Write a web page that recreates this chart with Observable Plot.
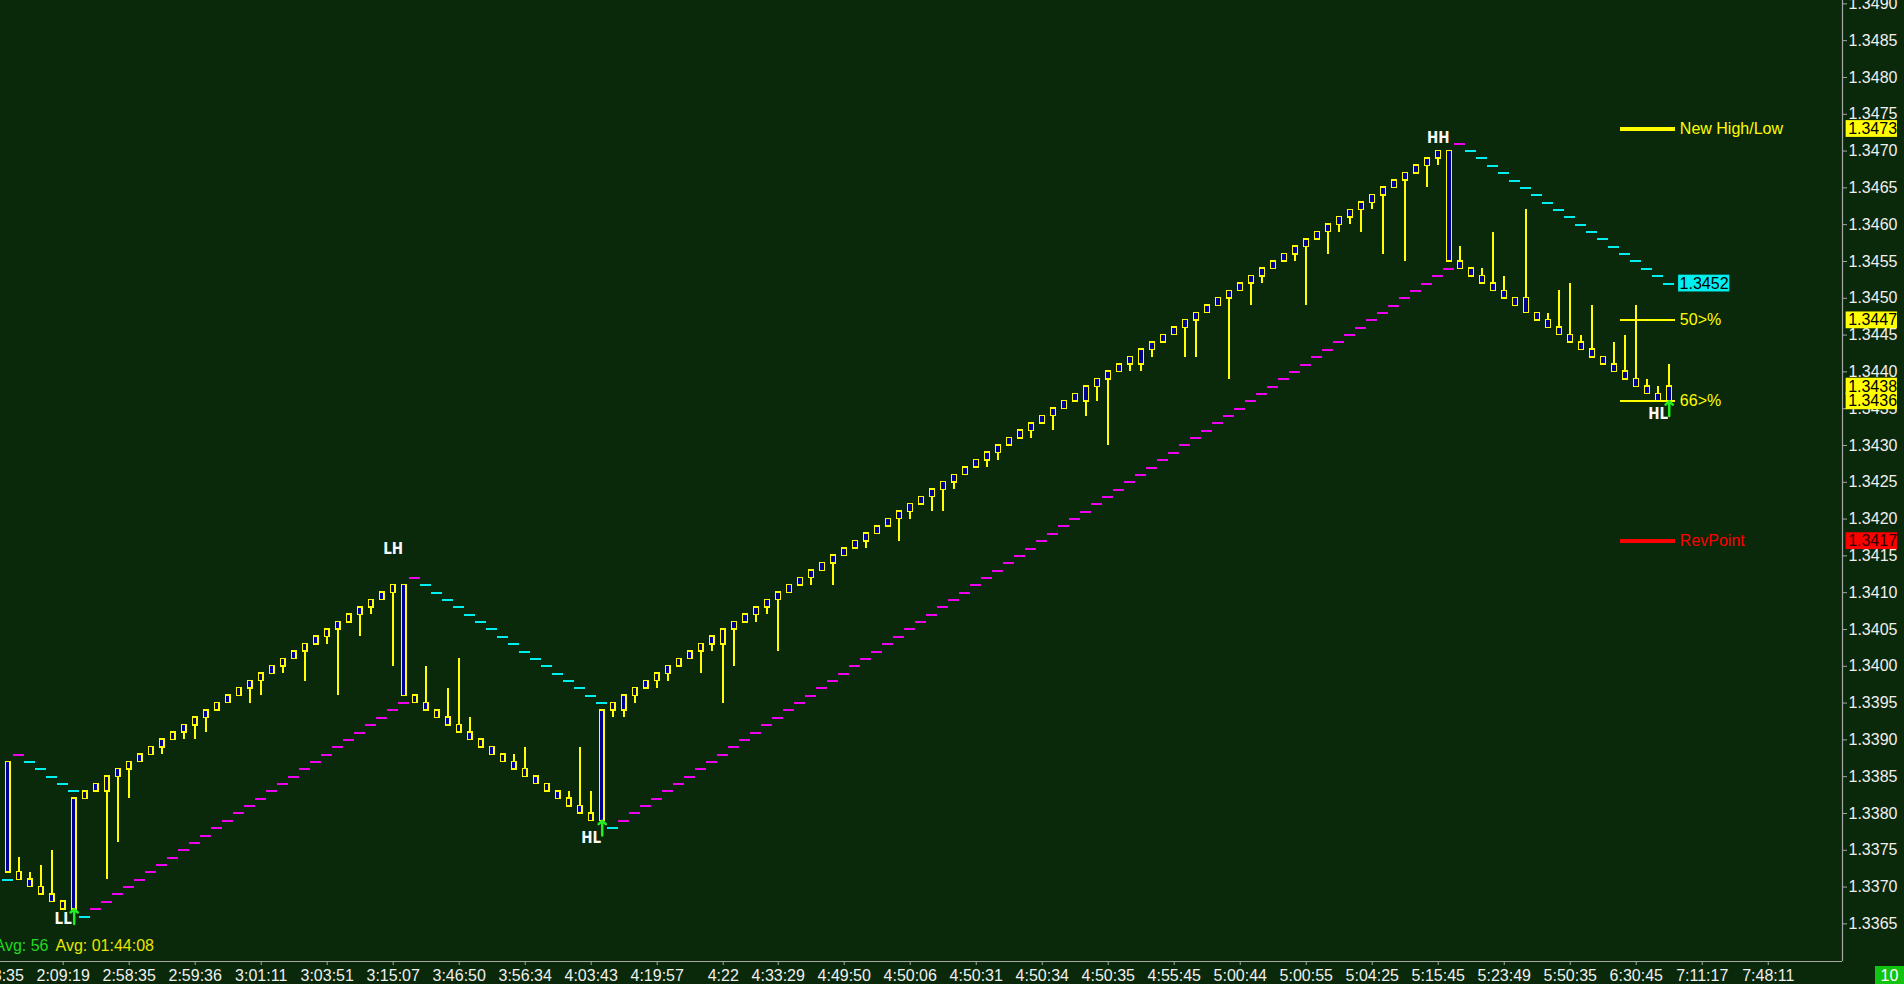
<!DOCTYPE html>
<html>
<head>
<meta charset="utf-8">
<script src="https://cdn.jsdelivr.net/npm/d3@7"></script>
<script src="https://cdn.jsdelivr.net/npm/@observablehq/plot@0.6"></script>
<style>
  html, body { margin: 0; padding: 0; background: #0a280a; overflow: hidden; }
  #wrap { position: relative; width: 1904px; height: 984px; }
  #wrap svg { display: block; }
  #count { position: absolute; left: 1875px; top: 966px; width: 29px; height: 18px;
    background: #12c412; color: #ffffff; font: 16px "Liberation Sans", Arial, sans-serif;
    line-height: 19px; text-align: center; }
</style>
</head>
<body>
<div id="wrap"></div>
<script>
// ---------------- DATA ----------------
const open = [
  1.3387,1.3372,1.3371,1.3370,1.3369,1.3368,1.3367,1.3382,1.3383,1.3383,
  1.3385,1.3386,1.3387,1.3388,1.3389,1.3390,1.3391,1.3392,1.3393,1.3394,
  1.3395,1.3396,1.3397,1.3398,1.3399,1.3400,1.3401,1.3402,1.3403,1.3404,
  1.3405,1.3406,1.3407,1.3408,1.3409,1.3410,1.3411,1.3396,1.3395,1.3394,
  1.3393,1.3392,1.3391,1.3390,1.3389,1.3388,1.3387,1.3386,1.3385,1.3384,
  1.3383,1.3382,1.3381,1.3380,1.3379,1.3394,1.3394,1.3396,1.3397,1.3398,
  1.3399,1.3400,1.3401,1.3402,1.3403,1.3403,1.3405,1.3406,1.3407,1.3408,
  1.3409,1.3410,1.3411,1.3412,1.3413,1.3414,1.3415,1.3416,1.3417,1.3418,
  1.3419,1.3420,1.3421,1.3422,1.3423,1.3424,1.3425,1.3426,1.3427,1.3428,
  1.3429,1.3430,1.3431,1.3432,1.3433,1.3434,1.3435,1.3436,1.3436,1.3438,
  1.3439,1.3440,1.3441,1.3441,1.3443,1.3444,1.3445,1.3446,1.3447,1.3448,
  1.3449,1.3450,1.3451,1.3452,1.3453,1.3454,1.3455,1.3456,1.3457,1.3458,
  1.3459,1.3460,1.3461,1.3462,1.3463,1.3464,1.3465,1.3466,1.3467,1.3468,
  1.3469,1.3470,1.3455,1.3454,1.3453,1.3452,1.3451,1.3450,1.3450,1.3448,
  1.3447,1.3446,1.3445,1.3444,1.3443,1.3442,1.3441,1.3440,1.3439,1.3438,
  1.3437,1.3436
];
const close = [
  1.3372,1.3371,1.3370,1.3369,1.3368,1.3367,1.3382,1.3383,1.3384,1.3385,
  1.3386,1.3387,1.3388,1.3389,1.3390,1.3391,1.3392,1.3393,1.3394,1.3395,
  1.3396,1.3397,1.3398,1.3399,1.3400,1.3401,1.3402,1.3403,1.3404,1.3405,
  1.3406,1.3407,1.3408,1.3409,1.3410,1.3411,1.3396,1.3395,1.3394,1.3393,
  1.3392,1.3391,1.3390,1.3389,1.3388,1.3387,1.3386,1.3385,1.3384,1.3383,
  1.3382,1.3381,1.3380,1.3379,1.3394,1.3395,1.3396,1.3397,1.3398,1.3399,
  1.3400,1.3401,1.3402,1.3403,1.3404,1.3405,1.3406,1.3407,1.3408,1.3409,
  1.3410,1.3411,1.3412,1.3413,1.3414,1.3415,1.3416,1.3417,1.3418,1.3419,
  1.3420,1.3421,1.3422,1.3423,1.3424,1.3425,1.3426,1.3427,1.3428,1.3429,
  1.3430,1.3431,1.3432,1.3433,1.3434,1.3435,1.3436,1.3437,1.3438,1.3439,
  1.3440,1.3441,1.3442,1.3443,1.3444,1.3445,1.3446,1.3447,1.3448,1.3449,
  1.3450,1.3451,1.3452,1.3453,1.3454,1.3455,1.3456,1.3457,1.3458,1.3459,
  1.3460,1.3461,1.3462,1.3463,1.3464,1.3465,1.3466,1.3467,1.3468,1.3469,
  1.3470,1.3455,1.3454,1.3453,1.3452,1.3451,1.3450,1.3449,1.3448,1.3447,
  1.3446,1.3445,1.3444,1.3443,1.3442,1.3441,1.3440,1.3439,1.3438,1.3437,
  1.3436,1.3438
];
const high = [
  1.3387,1.3374,1.3372,1.3373,1.3375,1.3368,1.3382,1.3383,1.3384,1.3385,
  1.3386,1.3387,1.3388,1.3389,1.3390,1.3391,1.3392,1.3393,1.3394,1.3395,
  1.3396,1.3397,1.3398,1.3399,1.3400,1.3401,1.3402,1.3403,1.3404,1.3405,
  1.3406,1.3407,1.3408,1.3409,1.3410,1.3411,1.3411,1.3396,1.3400,1.3394,
  1.3397,1.3401,1.3393,1.3390,1.3389,1.3388,1.3388,1.3389,1.3385,1.3384,
  1.3383,1.3383,1.3389,1.3383,1.3394,1.3395,1.3396,1.3397,1.3398,1.3399,
  1.3400,1.3401,1.3402,1.3403,1.3404,1.3405,1.3406,1.3407,1.3408,1.3409,
  1.3410,1.3411,1.3412,1.3413,1.3414,1.3415,1.3416,1.3417,1.3418,1.3419,
  1.3420,1.3421,1.3422,1.3423,1.3424,1.3425,1.3426,1.3427,1.3428,1.3429,
  1.3430,1.3431,1.3432,1.3433,1.3434,1.3435,1.3436,1.3437,1.3438,1.3439,
  1.3440,1.3441,1.3442,1.3443,1.3444,1.3445,1.3446,1.3447,1.3448,1.3449,
  1.3450,1.3451,1.3452,1.3453,1.3454,1.3455,1.3456,1.3457,1.3458,1.3459,
  1.3460,1.3461,1.3462,1.3463,1.3464,1.3465,1.3466,1.3467,1.3468,1.3469,
  1.3470,1.3470,1.3457,1.3454,1.3454,1.3459,1.3453,1.3450,1.3462,1.3448,
  1.3448,1.3451,1.3452,1.3445,1.3449,1.3442,1.3444,1.3445,1.3449,1.3439,
  1.3438,1.3441
];
const low = [
  1.3372,1.3371,1.3370,1.3369,1.3368,1.3367,1.3367,1.3382,1.3383,1.3371,
  1.3376,1.3382,1.3387,1.3388,1.3388,1.3390,1.3390,1.3390,1.3391,1.3394,
  1.3395,1.3396,1.3395,1.3396,1.3399,1.3399,1.3401,1.3398,1.3403,1.3403,
  1.3396,1.3406,1.3404,1.3407,1.3409,1.3400,1.3396,1.3395,1.3394,1.3393,
  1.3392,1.3391,1.3390,1.3389,1.3388,1.3387,1.3386,1.3385,1.3384,1.3383,
  1.3382,1.3381,1.3380,1.3379,1.3379,1.3393,1.3393,1.3395,1.3397,1.3397,
  1.3398,1.3400,1.3401,1.3399,1.3402,1.3395,1.3400,1.3406,1.3406,1.3407,
  1.3402,1.3410,1.3411,1.3411,1.3413,1.3411,1.3415,1.3416,1.3416,1.3418,
  1.3419,1.3417,1.3420,1.3422,1.3421,1.3421,1.3424,1.3426,1.3427,1.3427,
  1.3428,1.3430,1.3431,1.3431,1.3433,1.3432,1.3435,1.3436,1.3434,1.3436,
  1.3430,1.3440,1.3440,1.3440,1.3442,1.3444,1.3445,1.3442,1.3442,1.3448,
  1.3449,1.3439,1.3451,1.3449,1.3452,1.3454,1.3455,1.3455,1.3449,1.3458,
  1.3456,1.3459,1.3460,1.3459,1.3462,1.3456,1.3465,1.3455,1.3467,1.3465,
  1.3468,1.3455,1.3454,1.3453,1.3452,1.3451,1.3450,1.3449,1.3448,1.3447,
  1.3446,1.3445,1.3444,1.3443,1.3442,1.3441,1.3440,1.3439,1.3438,1.3437,
  1.3436,1.3436
];
// trailing stop level per bar, and its side: c = cyan (above), m = magenta (below)
const stopLevel = [
  1.3371,1.3388,1.3387,1.3386,1.3385,1.3384,1.3383,1.3366,1.3367,1.3368,
  1.3369,1.3370,1.3371,1.3372,1.3373,1.3374,1.3375,1.3376,1.3377,1.3378,
  1.3379,1.3380,1.3381,1.3382,1.3383,1.3384,1.3385,1.3386,1.3387,1.3388,
  1.3389,1.3390,1.3391,1.3392,1.3393,1.3394,1.3395,1.3412,1.3411,1.3410,
  1.3409,1.3408,1.3407,1.3406,1.3405,1.3404,1.3403,1.3402,1.3401,1.3400,
  1.3399,1.3398,1.3397,1.3396,1.3395,1.3378,1.3379,1.3380,1.3381,1.3382,
  1.3383,1.3384,1.3385,1.3386,1.3387,1.3388,1.3389,1.3390,1.3391,1.3392,
  1.3393,1.3394,1.3395,1.3396,1.3397,1.3398,1.3399,1.3400,1.3401,1.3402,
  1.3403,1.3404,1.3405,1.3406,1.3407,1.3408,1.3409,1.3410,1.3411,1.3412,
  1.3413,1.3414,1.3415,1.3416,1.3417,1.3418,1.3419,1.3420,1.3421,1.3422,
  1.3423,1.3424,1.3425,1.3426,1.3427,1.3428,1.3429,1.3430,1.3431,1.3432,
  1.3433,1.3434,1.3435,1.3436,1.3437,1.3438,1.3439,1.3440,1.3441,1.3442,
  1.3443,1.3444,1.3445,1.3446,1.3447,1.3448,1.3449,1.3450,1.3451,1.3452,
  1.3453,1.3454,1.3471,1.3470,1.3469,1.3468,1.3467,1.3466,1.3465,1.3464,
  1.3463,1.3462,1.3461,1.3460,1.3459,1.3458,1.3457,1.3456,1.3455,1.3454,
  1.3453,1.3452
];
const stopSide = [
  "cmccccccmm","mmmmmmmmmm","mmmmmmmmmm","mmmmmmmmcc","cccccccccc",
  "ccccccmmmm","mmmmmmmmmm","mmmmmmmmmm","mmmmmmmmmm","mmmmmmmmmm",
  "mmmmmmmmmm","mmmmmmmmmm","mmmmmmmmmm","mmmccccccc","cccccccccc","cc"
].join("");

// swing labels (bar index, text, price where the label sits)
const swingBar = [5, 35, 53, 130, 150];
const swingText = ["LL", "LH", "HL", "HH", "HL"];
const swingPrice = [1.33657, 1.34159, 1.33766, 1.34717, 1.34342];
// green reversal arrows (bar index)
const arrowBar = [6, 54, 151];

// level legend at the right
const levelPrice = [1.3473, 1.3447, 1.3436, 1.3417];
const levelText = ["New High/Low", "50>%", "66>%", "RevPoint"];
const levelColor = ["#ffff00", "#ffff00", "#ffff00", "#ff0000"];
const levelWidth = [4, 2, 2, 4];

// price tags on the axis
const tagPrice = [1.3473, 1.3447, 1.3438, 1.3436, 1.3417];
const tagColor = ["#ffff00", "#ffff00", "#ffff00", "#ffff00", "#ff0000"];
const stopTagPrice = 1.3452;

// axes
const xTickBars = [-1,5,11,17,23,29,35,41,47,53,59,65,70,76,82,88,94,100,106,112,118,124,130,136,142,148,154,160];
const xTickLabels = ["1:48:35","2:09:19","2:58:35","2:59:36","3:01:11","3:03:51","3:15:07","3:46:50","3:56:34","4:03:43",
  "4:19:57","4:22","4:33:29","4:49:50","4:50:06","4:50:31","4:50:34","4:50:35","4:55:45","5:00:44",
  "5:00:55","5:04:25","5:15:45","5:23:49","5:50:35","6:30:45","7:11:17","7:48:11"];
const yTicks = [1.3365,1.3370,1.3375,1.3380,1.3385,1.3390,1.3395,1.3400,1.3405,1.3410,1.3415,1.3420,1.3425,
  1.3430,1.3435,1.3440,1.3445,1.3450,1.3455,1.3460,1.3465,1.3470,1.3475,1.3480,1.3485,1.3490];

const footerCount = "Avg: 56";
const footerTime = "Avg: 01:44:08";

// ---------------- BUILD ----------------
const bars = open.map((o, i) => ({i, open: o, close: close[i], high: high[i], low: low[i]}));
const stops = stopLevel.map((v, i) => ({i, v, side: stopSide[i]}));
const swings = swingBar.map((b, k) => ({i: b, t: swingText[k], v: swingPrice[k]}));
const arrows = arrowBar.map(b => ({i: b, v: low[b]}));
const lastBar = bars.length - 1;

const W = 1904, H = 984;
const xDomain = [-0.7, 166.75];
const yDomain = [1.335989, 1.349046];
const plotH = 961;
const pxPerPrice = plotH / (yDomain[1] - yDomain[0]);
const tagHalf = 8.4 / pxPerPrice;

const YEL = "#ffff00", NAVY = "#000090", CYAN = "#00f0f0", MAG = "#f000f0";
const GREEN = "#22ee22", AXIS = "#a8a8a8", TXT = "#f0f0f0";
const SANS = "'Liberation Sans', Arial, sans-serif";
const NARROW = "'Liberation Sans Narrow', 'Arial Narrow', 'DejaVu Sans Condensed', sans-serif";
const CRISP = {shapeRendering: "crispEdges"};

const marks = [];
// trailing stop dashes
marks.push(Plot.ruleY(stops.filter(d => d.side === "m"), {y: "v", x1: d => d.i - 0.5, x2: d => d.i + 0.5, stroke: MAG, strokeWidth: 2, ...CRISP}));
marks.push(Plot.ruleY(stops.filter(d => d.side === "c"), {y: "v", x1: d => d.i - 0.5, x2: d => d.i + 0.5, stroke: CYAN, strokeWidth: 2, ...CRISP}));
// wicks
marks.push(Plot.ruleX(bars, {x: "i", y1: "low", y2: "high", stroke: YEL, strokeWidth: 2, ...CRISP}));
// bodies: yellow outline rect, navy interior
marks.push(Plot.rect(bars, {x1: d => d.i - 0.28, x2: d => d.i + 0.28, y1: "open", y2: "close", fill: YEL, insetTop: -0.9, insetBottom: -0.9, ...CRISP}));
marks.push(Plot.rect(bars, {x1: d => d.i - 0.28, x2: d => d.i + 0.28, y1: "open", y2: "close", fill: NAVY, insetLeft: 1.3, insetRight: 1.3, insetTop: 0.6, insetBottom: 0.6, ...CRISP}));
// level legend
levelPrice.forEach((v, k) => {
  marks.push(Plot.ruleY([v], {y: d => d, x1: lastBar - 4.4, x2: lastBar + 0.6, stroke: levelColor[k], strokeWidth: levelWidth[k], ...CRISP}));
  marks.push(Plot.text([levelText[k]], {x: lastBar + 0.6, y: v, text: d => d, dx: 4, textAnchor: "start", fill: levelColor[k], fontSize: 16, fontFamily: SANS}));
});
// arrows
marks.push(Plot.arrow(arrows, {x1: "i", x2: "i", y1: d => d.v - 0.0002, y2: "v", stroke: GREEN, strokeWidth: 2.5, headLength: 7.5, headAngle: 95}));
// swing labels
marks.push(Plot.text(swings, {x: "i", y: "v", text: "t", fill: "#f8f8f8", fontWeight: "bold", fontSize: 15, fontFamily: NARROW}));
// stop price tag
marks.push(Plot.rect([stopTagPrice], {x1: lastBar + 0.85, x2: lastBar + 5.5, y1: d => d - tagHalf, y2: d => d + tagHalf, fill: CYAN}));
marks.push(Plot.text([stopTagPrice], {x: lastBar + 0.85, y: d => d, text: d => d3.format(".4f")(d), dx: 1, textAnchor: "start", fill: "#000000", fontSize: 16, fontFamily: SANS}));
// axis lines
marks.push(Plot.ruleX([xDomain[1]], {stroke: AXIS, strokeWidth: 1.2}));
marks.push(Plot.ruleY([yDomain[0]], {stroke: AXIS, strokeWidth: 1.2}));
// axes
marks.push(Plot.axisY({anchor: "right", ticks: yTicks, tickFormat: d3.format(".4f"), tickSize: 4, tickPadding: 2, stroke: AXIS, fill: TXT, label: null, fontSize: 16}));
marks.push(Plot.axisX({anchor: "bottom", ticks: xTickBars, tickFormat: d => xTickLabels[xTickBars.indexOf(d)], tickSize: 4, tickPadding: 4, stroke: AXIS, fill: TXT, label: null, fontSize: 16}));
// axis price tags
tagPrice.forEach((v, k) => {
  marks.push(Plot.rect([v], {x1: xDomain[1] + 0.33, x2: xDomain[1] + 5, y1: d => d - tagHalf, y2: d => d + tagHalf, fill: tagColor[k]}));
  marks.push(Plot.text([v], {x: xDomain[1] + 0.33, y: d => d, text: d => d3.format(".4f")(d), dx: 2, textAnchor: "start", fill: k === 4 ? "#300000" : "#000000", fontSize: 16, fontFamily: SANS}));
});
// footer texts
marks.push(Plot.text([footerCount], {frameAnchor: "bottom-left", text: d => d, dx: -6, dy: -11, textAnchor: "start", fill: "#22d822", fontSize: 16, fontFamily: SANS}));
marks.push(Plot.text([footerTime], {frameAnchor: "bottom-left", text: d => d, dx: 55, dy: -11, textAnchor: "start", fill: "#e6e600", fontSize: 16, fontFamily: SANS}));

const chart = Plot.plot({
  width: W,
  height: H,
  marginLeft: 0,
  marginRight: W - 1842,
  marginTop: 0,
  marginBottom: H - plotH,
  x: {type: "linear", domain: xDomain},
  y: {type: "linear", domain: yDomain},
  style: {background: "#0a280a", color: TXT, fontFamily: SANS, fontSize: "16px"},
  marks
});
document.getElementById("wrap").appendChild(chart);
const cnt = document.createElement("div");
cnt.id = "count";
cnt.textContent = "10";
document.getElementById("wrap").appendChild(cnt);
</script>
</body>
</html>
